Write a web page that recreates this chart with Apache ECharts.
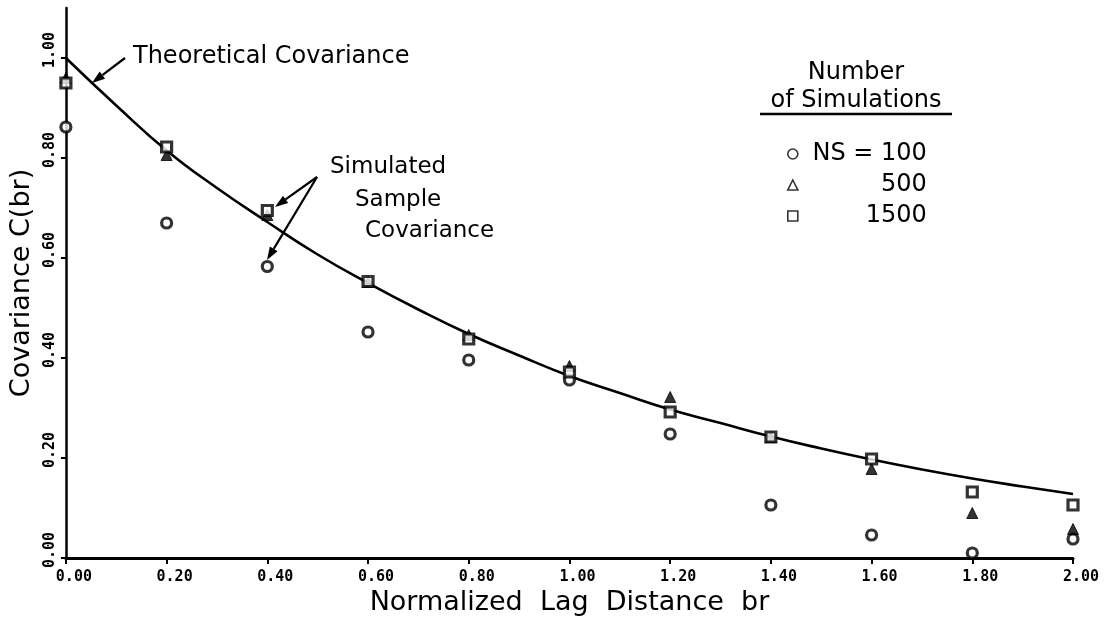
<!DOCTYPE html>
<html>
<head>
<meta charset="utf-8">
<script src="https://cdn.jsdelivr.net/npm/echarts@6/dist/echarts.min.js"></script>
<style>html,body{margin:0;padding:0;background:#fff}#c{width:1110px;height:635px}</style>
</head>
<body>
<div id="c"></div>
<script>
// ---- data ----
var lagX = [0.00, 0.20, 0.40, 0.60, 0.80, 1.00, 1.20, 1.40, 1.60, 1.80, 2.00];
var ns100 = [0.862, 0.670, 0.583, 0.452, 0.396, 0.356, 0.248, 0.106, 0.046, 0.010, 0.038];
var ns500 = [0.960, 0.806, 0.686, 0.552, 0.446, 0.384, 0.322, 0.242, 0.178, 0.090, 0.058];
var ns1500 = [0.950, 0.822, 0.695, 0.553, 0.438, 0.372, 0.292, 0.242, 0.198, 0.132, 0.106];
var curveX = [0.0, 0.1, 0.2, 0.3, 0.4, 0.5, 0.6, 0.7, 0.8, 0.9, 1.0, 1.1, 1.2, 1.3, 1.4, 1.5, 1.6, 1.7, 1.8, 1.9, 2.0];
var curveY = [1.000, 0.905, 0.815, 0.740, 0.672, 0.607, 0.550, 0.497, 0.448, 0.405, 0.364, 0.330, 0.297, 0.270, 0.243, 0.219, 0.197, 0.177, 0.159, 0.143, 0.128];
var yTicks = [0, 0.2, 0.4, 0.6, 0.8, 1.0];
var seriesNames = ['NS = 100', '500', '1500'];

function pairs(xa, ya) { return xa.map(function (x, i) { return [x, ya[i]]; }); }

function arrow(x1, y1, x2, y2) {
  var ang = Math.atan2(y2 - y1, x2 - x1), L = 13, W = 4.5;
  var bx = x2 - L * Math.cos(ang), by = y2 - L * Math.sin(ang);
  var px = -Math.sin(ang) * W, py = Math.cos(ang) * W;
  return [
    { type: 'line', shape: { x1: x1, y1: y1, x2: bx, y2: by }, style: { stroke: '#000', lineWidth: 2.2 } },
    { type: 'polygon', shape: { points: [[x2, y2], [bx + px, by + py], [bx - px, by - py]] }, style: { fill: '#000' } }
  ];
}

var txtFont = 'DejaVu Sans';
var graphics = [
  { type: 'text', left: 133, top: 45, style: { text: 'Theoretical Covariance', font: '24px "DejaVu Sans"', fill: '#000' } },
  { type: 'text', left: 330, top: 156, style: { text: 'Simulated', font: '23px "DejaVu Sans"', fill: '#000' } },
  { type: 'text', left: 355, top: 189, style: { text: 'Sample', font: '23px "DejaVu Sans"', fill: '#000' } },
  { type: 'text', left: 365, top: 220, style: { text: 'Covariance', font: '23px "DejaVu Sans"', fill: '#000' } },
  { type: 'text', x: 856, y: 73, style: { text: 'Number', font: '24px "DejaVu Sans"', fill: '#000', textAlign: 'center', textVerticalAlign: 'middle' } },
  { type: 'text', x: 856, y: 101, style: { text: 'of Simulations', font: '24px "DejaVu Sans"', fill: '#000', textAlign: 'center', textVerticalAlign: 'middle' } },
  { type: 'line', shape: { x1: 760, y1: 114, x2: 952, y2: 114 }, style: { stroke: '#000', lineWidth: 2.5 } }
].concat(arrow(125, 58, 92, 83)).concat(arrow(317, 177, 275, 207)).concat(arrow(317, 177, 267, 260));

var markerBase = { type: 'scatter', clip: false, z: 5 };

var option = {
  animation: false,
  backgroundColor: '#fff',
  grid: { left: 63, right: 37, top: 8, bottom: 77 },
  xAxis: {
    type: 'value', min: 0, max: 2, interval: 0.2,
    name: 'Normalized  Lag  Distance  br', nameLocation: 'middle', nameGap: 31,
    nameTextStyle: { fontFamily: txtFont, fontSize: 27, color: '#000' },
    axisLine: { onZero: false, lineStyle: { color: '#000', width: 3 } },
    axisTick: { show: true, length: 6, lineStyle: { color: '#000', width: 2 } },
    axisLabel: { fontFamily: 'DejaVu Sans Mono', fontWeight: 'bold', fontSize: 15, color: '#000', margin: 12,
      padding: [0, 0, 0, 16], formatter: function (v) { return v.toFixed(2); } },
    splitLine: { show: false }
  },
  yAxis: {
    type: 'value', min: 0, max: 1.1, interval: 0.2,
    name: 'Covariance C(br)', nameLocation: 'middle', nameGap: 28, nameRotate: 90,
    nameTextStyle: { fontFamily: txtFont, fontSize: 27, color: '#000' },
    axisLine: { show: true, lineStyle: { color: '#000', width: 2.5 } },
    axisTick: { show: true, length: 5, customValues: yTicks, lineStyle: { color: '#000', width: 2 } },
    axisLabel: { fontFamily: 'DejaVu Sans Mono', fontWeight: 'bold', fontSize: 15, color: '#000', margin: 8, rotate: 90,
      customValues: yTicks, padding: [0, 0, 0, 16], formatter: function (v) { return v.toFixed(2); } },
    splitLine: { show: false }
  },
  legend: {
    orient: 'vertical', left: 782, top: 137, itemWidth: 10, itemHeight: 10, itemGap: 7,
    icon: 'circle',
    data: [{ name: seriesNames[0], icon: 'circle' }, { name: seriesNames[1], icon: 'triangle' }, { name: seriesNames[2], icon: 'rect' }],
    itemStyle: { color: '#fff', borderColor: '#000', borderWidth: 1.6 },
    formatter: function (n) { return '{a|' + n + '}'; },
    textStyle: { color: '#000', rich: { a: { fontFamily: txtFont, fontSize: 24, lineHeight: 24, width: 124, align: 'right', color: '#000' } } },
    selectedMode: false
  },
  graphic: graphics,
  series: [
    { type: 'line', name: 'Theoretical', data: pairs(curveX, curveY), smooth: true, showSymbol: false, symbol: 'none',
      lineStyle: { color: '#000', width: 2.6 }, z: 3, silent: true },
    Object.assign({}, markerBase, { name: seriesNames[0], data: pairs(lagX, ns100), symbol: 'circle', symbolSize: 10,
      itemStyle: { color: '#fff', borderColor: '#000', borderWidth: 3.2 } }),
    Object.assign({}, markerBase, { name: seriesNames[1], data: pairs(lagX, ns500), symbol: 'triangle', symbolSize: 11,
      itemStyle: { color: '#000', borderColor: '#000', borderWidth: 1 } }),
    Object.assign({}, markerBase, { name: seriesNames[2], data: pairs(lagX, ns1500), symbol: 'rect', symbolSize: 10,
      itemStyle: { color: '#fff', borderColor: '#000', borderWidth: 3.2 } })
  ]
};
var chart = echarts.init(document.getElementById('c'), null, { renderer: 'canvas' });
chart.setOption(option);
</script>
</body>
</html>
